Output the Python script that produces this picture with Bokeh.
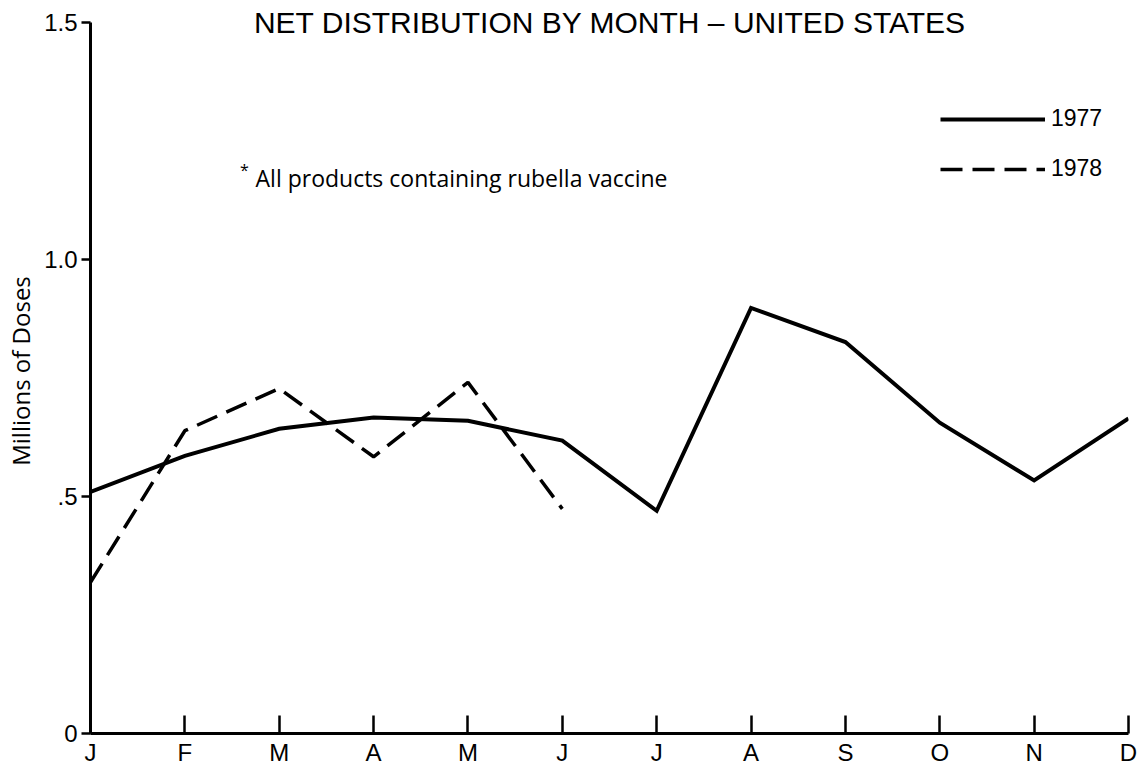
from bokeh.plotting import figure
from bokeh.models import FixedTicker, Range1d, Label, Legend, LegendItem
from bokeh.embed import file_html
from bokeh.resources import INLINE

# ---- data ----
month_labels = ["J", "F", "M", "A", "M", "J", "J", "A", "S", "O", "N", "D"]
month_idx = list(range(12))
doses_1977 = [0.51, 0.586, 0.643, 0.667, 0.66, 0.618, 0.47, 0.898, 0.826, 0.656, 0.534, 0.665]
months_1978 = [0, 1, 2, 3, 4, 5]
doses_1978 = [0.319, 0.639, 0.728, 0.584, 0.741, 0.474]
y_ticks = [0, 0.5, 1.0, 1.5]
y_tick_labels = {0: "0", 0.5: ".5", 1: "1.0", 1.5: "1.5"}

FONT = "Liberation Sans"
FONT2 = "Open Sans"

p = figure(width=1143, height=770, output_backend="svg", toolbar_location=None,
           x_range=Range1d(0, 11), y_range=Range1d(0, 1.53),
           min_border_left=90, min_border_right=15, min_border_top=8, min_border_bottom=37)
p.outline_line_color = None
p.grid.visible = False
p.background_fill_color = "white"
p.border_fill_color = "white"

# x axis
p.xaxis.ticker = FixedTicker(ticks=month_idx)
p.xaxis.major_label_overrides = {i: m for i, m in zip(month_idx, month_labels)}
p.xaxis.major_tick_in = 18
p.xaxis.major_tick_out = 0
p.xaxis.minor_tick_line_color = None
p.xaxis.axis_line_width = 3
p.xaxis.major_tick_line_width = 2.5
p.xaxis.major_label_text_font = FONT
p.xaxis.major_label_text_font_size = "24px"
p.xaxis.major_label_text_color = "black"
p.xaxis.major_label_standoff = 5

# y axis
p.yaxis.ticker = FixedTicker(ticks=y_ticks)
p.yaxis.bounds = (0, 1.5)
p.yaxis.major_label_overrides = y_tick_labels
p.yaxis.major_tick_in = 0
p.yaxis.major_tick_out = 9
p.yaxis.minor_tick_line_color = None
p.yaxis.axis_line_width = 3
p.yaxis.major_tick_line_width = 2.5
p.yaxis.major_label_text_font = FONT
p.yaxis.major_label_text_font_size = "24px"
p.yaxis.major_label_text_color = "black"
p.yaxis.major_label_standoff = 4
p.yaxis.axis_label = "Millions of Doses"
p.yaxis.axis_label_text_font = FONT2
p.yaxis.axis_label_text_font_size = "24px"
p.yaxis.axis_label_text_font_style = "normal"
p.yaxis.axis_label_text_color = "black"
p.yaxis.axis_label_standoff = 4

# series
r77 = p.line(month_idx, doses_1977, line_color="black", line_width=4, line_join="miter")
r78 = p.line(months_1978, doses_1978, line_color="black", line_width=3.5, line_dash="22 10")

legend = Legend(items=[LegendItem(label="1977", renderers=[r77]),
                       LegendItem(label="1978", renderers=[r78])],
                location=(850, 551), glyph_width=105, glyph_height=24, label_height=24,
                spacing=23, padding=0, margin=0, label_standoff=6,
                label_text_font=FONT, label_text_font_size="23px", label_text_color="black",
                border_line_color=None, background_fill_alpha=0)
p.add_layout(legend, "center")

# title
p.add_layout(Label(x=5.506, y=1.5, text="NET DISTRIBUTION BY MONTH \u2013 UNITED STATES",
                   text_font=FONT, text_font_size="30px", text_align="center",
                   text_baseline="middle", text_color="black"))
# footnote
p.add_layout(Label(x=1.749, y=1.173, text="All products containing rubella vaccine",
                   text_font=FONT2, text_font_size="23px", text_align="left",
                   text_baseline="middle", text_color="black"))
p.add_layout(Label(x=1.63, y=1.19, text="*",
                   text_font=FONT2, text_font_size="16px", text_align="center",
                   text_baseline="middle", text_color="black"))

open("out.html", "w").write(file_html(p, INLINE))
